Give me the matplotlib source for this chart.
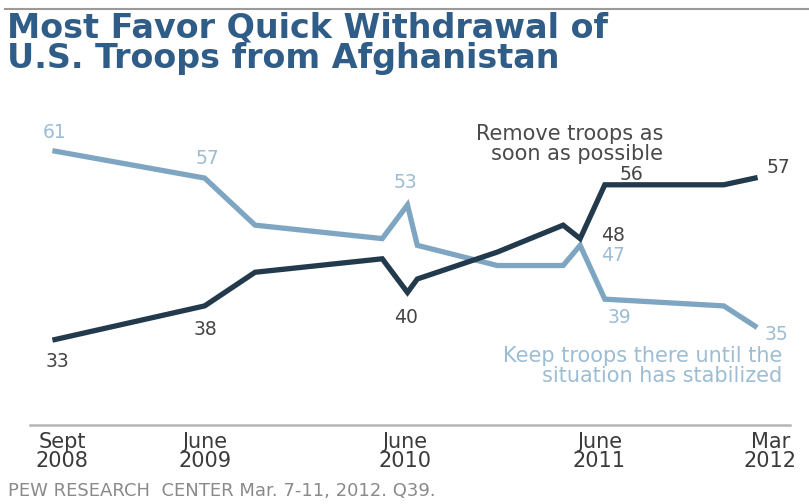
import pandas as pd
import matplotlib
matplotlib.use("Agg")
import matplotlib.pyplot as plt
import matplotlib.dates as mdates

# --- data ---
survey_dates = pd.to_datetime([
    "2008-09-15", "2009-06-15", "2009-09-15", "2010-05-05", "2010-06-20",
    "2010-07-08", "2010-12-01", "2011-03-31", "2011-05-01", "2011-06-15",
    "2012-01-18", "2012-03-15",
])
remove_now = [33, 38, 43, 45, 40, 42, 46, 50, 48, 56, 56, 57]
keep_troops = [61, 57, 50, 48, 53, 47, 44, 44, 47, 39, 38, 35]

tick_dates = pd.to_datetime(["2008-09-28", "2009-06-15", "2010-06-15", "2011-06-05", "2012-04-12"])
tick_labels = ["Sept\n2008", "June\n2009", "June\n2010", "June\n2011", "Mar\n2012"]

# labelled points: (point index, offset in pixels)
remove_labels = [(0, (2, -22)), (1, (1, -24)), (4, (-1, -25)), (8, (33, 3)), (9, (27, 10)), (11, (23, 11))]
keep_labels = [(0, (0, 19)), (1, (3, 20)), (4, (-2, 22)), (8, (33, -10)), (9, (15, -18)), (11, (21, -8))]

DARK = "#233a4d"
LIGHT = "#7ea6c2"
LIGHT_TXT = "#9cbdd4"
DARK_TXT = "#454545"

fig = plt.figure(figsize=(8.09, 5.04), dpi=100)
fig.patch.set_facecolor("white")
ax = fig.add_axes([30 / 809, (504 - 425) / 504, 760 / 809, 325 / 504])

ax.plot(survey_dates, keep_troops, color=LIGHT, lw=3.8, solid_joinstyle="miter", zorder=2)
ax.plot(survey_dates, remove_now, color=DARK, lw=3.8, solid_joinstyle="miter", zorder=3)

# x range: first survey at px 55, last at px 755 inside a 760px wide axes
d0, d1 = mdates.date2num(survey_dates[0]), mdates.date2num(survey_dates[-1])
ppd = 700 / (d1 - d0)
ax.set_xlim(d0 - 25 / ppd, d1 + 35 / ppd)
ax.set_ylim(20.3, 68.6)

for i, off in remove_labels:
    ax.annotate(str(remove_now[i]), (survey_dates[i], remove_now[i]), xytext=off,
                textcoords="offset pixels", ha="center", va="center",
                fontsize=13.5, color=DARK_TXT, zorder=4)
for i, off in keep_labels:
    ax.annotate(str(keep_troops[i]), (survey_dates[i], keep_troops[i]), xytext=off,
                textcoords="offset pixels", ha="center", va="center",
                fontsize=13.5, color=LIGHT_TXT, zorder=4)

fig.text(663 / 809, 1 - 144 / 504, "Remove troops as\nsoon as possible", ha="right", va="center",
         fontsize=15, color="#4a4a4a", linespacing=0.95)
fig.text(782 / 809, 1 - 366 / 504, "Keep troops there until the\nsituation has stabilized", ha="right",
         va="center", fontsize=15, color=LIGHT_TXT, linespacing=0.95)

ax.set_xticks(tick_dates)
ax.set_xticklabels(tick_labels, fontsize=15, color="#3a3a3a", linespacing=0.95)
ax.tick_params(axis="x", length=0, pad=5)
ax.set_yticks([])
for s in ["top", "left", "right"]:
    ax.spines[s].set_visible(False)
ax.spines["bottom"].set_color("#b5b5b5")
ax.spines["bottom"].set_linewidth(1.8)
ax.patch.set_alpha(0)

# header rule and title
fig.add_artist(plt.Line2D([5 / 809, 1], [1 - 9 / 504] * 2, color="#9a9a9a", lw=1.5))
fig.text(7 / 809, 1 - 12 / 504, "Most Favor Quick Withdrawal of\nU.S. Troops from Afghanistan",
         ha="left", va="top", fontsize=24, fontweight="bold", color="#2f5d88", linespacing=0.9)

fig.text(8 / 809, 1 - 491 / 504, "PEW RESEARCH  CENTER Mar. 7-11, 2012. Q39.", ha="left", va="center",
         fontsize=13, color="#8a8a8a")

fig.savefig("out.png", dpi=100, facecolor="white")
